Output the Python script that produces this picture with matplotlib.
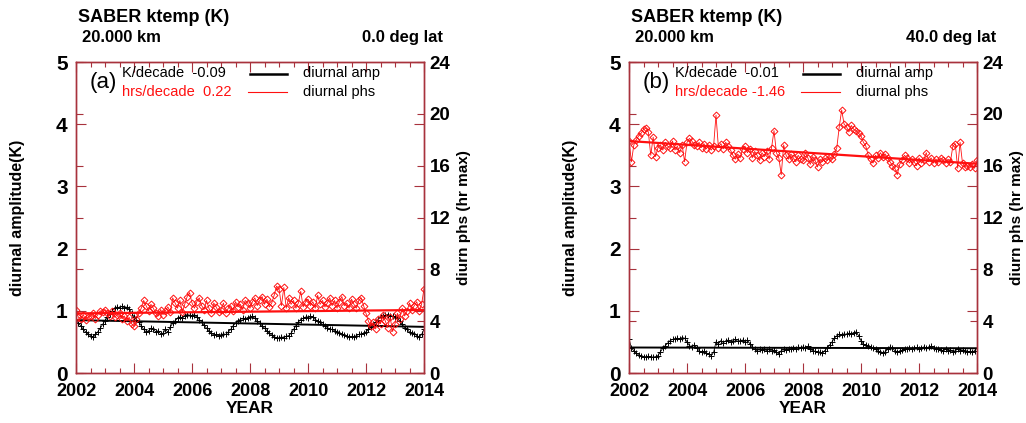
import numpy as np
import matplotlib
matplotlib.use("Agg")
import matplotlib.pyplot as plt
from matplotlib.ticker import MultipleLocator

plt.rcParams['font.family'] = ['Liberation Sans', 'DejaVu Sans']

# monthly values, Jan 2002 .. Jan 2014
AMP_A = [
    0.85, 0.80, 0.76, 0.70, 0.66, 0.63, 0.60, 0.58, 0.62, 0.66, 0.72, 0.78,
    0.84, 0.90, 0.95, 1.00, 1.04, 1.06, 1.05, 1.07, 1.04, 1.06, 1.03, 0.97,
    0.90, 0.86, 0.82, 0.76, 0.70, 0.66, 0.68, 0.72, 0.70, 0.66, 0.68, 0.63,
    0.64, 0.70, 0.66, 0.74, 0.80, 0.84, 0.88, 0.90, 0.89, 0.92, 0.94, 0.93,
    0.92, 0.94, 0.90, 0.86, 0.82, 0.77, 0.72, 0.68, 0.64, 0.61, 0.62, 0.60,
    0.61, 0.63, 0.62, 0.66, 0.70, 0.76, 0.80, 0.84, 0.86, 0.88, 0.87, 0.89,
    0.90, 0.91, 0.88, 0.84, 0.80, 0.76, 0.72, 0.68, 0.64, 0.61, 0.58, 0.57,
    0.56, 0.58, 0.57, 0.59, 0.60, 0.64, 0.70, 0.76, 0.82, 0.86, 0.88, 0.90,
    0.89, 0.91, 0.90, 0.86, 0.84, 0.82, 0.78, 0.76, 0.73, 0.71, 0.70, 0.68,
    0.66, 0.64, 0.63, 0.61, 0.60, 0.58, 0.59, 0.58, 0.60, 0.62, 0.63, 0.64,
    0.66, 0.70, 0.74, 0.78, 0.82, 0.86, 0.90, 0.92, 0.93, 0.94, 0.92, 0.91,
    0.90, 0.88, 0.84, 0.78, 0.72, 0.70, 0.66, 0.64, 0.63, 0.60, 0.58, 0.62,
    0.70,
]

PHS_A = [
    4.9, 4.3, 4.2, 4.5, 4.1, 4.3, 4.4, 4.6, 4.2, 4.5, 4.8, 4.7,
    4.9, 4.6, 4.4, 4.8, 4.3, 4.5, 4.6, 4.2, 4.4, 4.0, 4.3, 3.8,
    3.6, 4.2, 4.6, 5.0, 5.6, 5.2, 4.8, 5.3, 5.0, 4.6, 4.4, 4.9,
    4.5, 4.8, 5.1, 4.7, 5.8, 5.4, 5.0, 5.6, 4.7, 5.3, 5.9, 6.2,
    5.4, 5.0, 5.5, 5.8, 5.2, 4.9, 5.6, 5.0, 4.6, 5.4, 5.1, 4.7,
    4.9, 5.4, 4.6, 5.0, 5.2, 4.8, 5.5, 5.1, 5.3, 4.9, 5.6, 5.4,
    5.0, 5.5, 5.8, 5.2, 5.6, 5.9, 5.3, 5.7, 5.1, 5.4, 6.0, 6.7,
    6.5, 5.2, 6.6, 5.0, 5.8, 5.3, 5.6, 5.0, 5.4, 6.3, 5.1, 5.5,
    5.7, 5.2, 5.5, 5.0, 6.0, 5.3, 5.6, 5.1, 5.4, 5.8, 5.2, 5.6,
    5.0, 5.5, 5.9, 5.2, 5.4, 5.0, 5.7, 5.3, 5.0, 5.6, 5.8, 5.2,
    4.6, 4.0, 3.6, 3.9, 3.4, 4.2, 3.8, 4.5, 4.0, 3.5, 4.3, 3.2,
    3.8, 4.6, 4.2, 5.0, 4.4, 4.8, 5.4, 4.9, 5.2, 5.5, 4.8, 5.3,
    6.5,
]

AMP_B = [
    0.55, 0.40, 0.36, 0.32, 0.29, 0.27, 0.26, 0.26, 0.27, 0.25, 0.26, 0.26,
    0.28, 0.34, 0.40, 0.44, 0.48, 0.52, 0.54, 0.55, 0.56, 0.55, 0.57, 0.56,
    0.50, 0.44, 0.42, 0.45, 0.40, 0.36, 0.33, 0.35, 0.32, 0.31, 0.28, 0.33,
    0.50, 0.47, 0.52, 0.49, 0.51, 0.53, 0.50, 0.52, 0.54, 0.51, 0.52, 0.53,
    0.50, 0.53, 0.47, 0.42, 0.38, 0.36, 0.38, 0.37, 0.39, 0.36, 0.38, 0.35,
    0.37, 0.33, 0.31, 0.36, 0.38, 0.37, 0.39, 0.38, 0.40, 0.39, 0.41, 0.40,
    0.42, 0.40, 0.43, 0.38, 0.36, 0.35, 0.33, 0.34, 0.32, 0.36, 0.40, 0.45,
    0.50, 0.56, 0.60, 0.62, 0.61, 0.63, 0.62, 0.64, 0.63, 0.65, 0.66, 0.60,
    0.52, 0.46, 0.45, 0.44, 0.42, 0.40, 0.38, 0.35, 0.33, 0.32, 0.34, 0.38,
    0.42, 0.40, 0.36, 0.34, 0.35, 0.37, 0.38, 0.39, 0.40, 0.38, 0.40, 0.41,
    0.39, 0.40, 0.42, 0.40, 0.41, 0.43, 0.40, 0.38, 0.39, 0.37, 0.36, 0.38,
    0.35, 0.37, 0.34, 0.36, 0.38, 0.35, 0.37, 0.36, 0.34, 0.35, 0.33, 0.36,
    0.40,
]

PHS_B = [
    17.9, 16.3, 17.6, 18.0, 18.3, 18.5, 18.8, 18.9, 18.6, 16.8, 18.2, 16.7,
    17.4, 17.6, 17.2, 17.8, 17.5, 17.4, 17.9, 17.2, 17.5, 17.0, 17.6, 16.3,
    17.8, 18.1, 17.9, 17.6, 17.5, 17.8, 17.4, 17.7, 17.3, 17.6, 17.2, 17.5,
    19.9, 17.4, 17.7, 17.3, 17.8, 17.5, 17.2, 16.8, 16.5, 16.9, 16.6, 17.3,
    17.5, 17.0, 17.3, 16.6, 17.1, 16.8, 16.4, 17.0, 16.7, 17.1, 16.5, 17.4,
    18.7, 17.0, 16.6, 15.3, 17.6, 16.8, 16.5, 16.9, 16.6, 16.3, 16.8, 16.5,
    16.4, 17.0, 16.6, 16.1, 16.7, 16.4, 15.9, 16.5, 16.3, 16.6, 16.4, 16.7,
    16.5, 16.9, 17.4, 19.0, 20.3, 19.2, 19.0, 18.6, 19.1, 18.8, 18.7, 18.5,
    18.3, 17.8, 17.5, 16.8, 16.5, 16.2, 16.8, 16.6, 17.0, 16.7, 16.9, 16.6,
    16.3, 16.0, 15.8, 15.3, 16.1, 16.4, 16.8, 16.6, 16.2, 16.5, 16.3, 16.0,
    16.6, 16.2, 16.4, 17.0, 16.3, 16.6, 16.2, 16.5, 16.3, 16.6, 16.4, 16.2,
    16.5, 16.3, 17.5, 17.7, 15.8, 17.8, 16.2, 15.9, 16.0, 15.9, 16.1, 15.8,
    16.4,
]

# trend: value at 2002 and slope per decade
AMP_TREND = {'a': (0.85, -0.09), 'b': (0.41, -0.01)}
PHS_TREND = {'a': (4.60, 0.22), 'b': (17.9, -1.46)}

PANELS = [
    ('a', '0.0 deg lat', AMP_A, PHS_A, 'K/decade  -0.09', 'hrs/decade  0.22'),
    ('b', '40.0 deg lat', AMP_B, PHS_B, 'K/decade  -0.01', 'hrs/decade -1.46'),
]

W, H = 1026, 423
SPINE = '#a8323c'
RED = '#ff1010'


def fx(px):
    return px / W


def fy(py):
    return 1 - py / H


def draw_panel(fig, left_px, panel):
    key, lat, amp, phs, amp_txt, phs_txt = panel
    x0, x1, y0, y1 = left_px, left_px + 348, 62, 373
    ax = fig.add_axes([fx(x0), fy(y1), (x1 - x0) / W, (y1 - y0) / H])
    ax2 = ax.twinx()
    years = 2002 + np.arange(len(amp)) / 12.0

    ax.plot(years, amp, color='black', lw=0.6, marker='+', ms=4, mew=0.7)
    a0, aslope = AMP_TREND[key]
    ax.plot([2002, 2014], [a0, a0 + aslope * 1.2], color='black', lw=1.4)

    ax2.plot(years, phs, color=RED, lw=0.6, marker='D', ms=3.5, mfc='none', mew=0.7)
    p0, pslope = PHS_TREND[key]
    ax2.plot([2002, 2014], [p0, p0 + pslope * 1.2], color=RED, lw=1.6)

    ax.set_xlim(2002, 2014)
    ax.set_ylim(0, 5)
    ax2.set_ylim(0, 24)
    ax.xaxis.set_major_locator(MultipleLocator(2))
    ax.xaxis.set_minor_locator(MultipleLocator(0.5))
    ax.yaxis.set_major_locator(MultipleLocator(1))
    ax2.yaxis.set_major_locator(MultipleLocator(4))

    for a in (ax, ax2):
        for s in a.spines.values():
            s.set_color(SPINE)
            s.set_linewidth(1.0)
    ax.tick_params(which='both', direction='in', top=True, right=True, color=SPINE)
    ax.tick_params(which='major', length=7, width=0.8, labelsize=15, pad=6)
    ax.tick_params(which='minor', length=3.5, width=0.8)
    ax.tick_params(axis='x', labelsize=13, pad=7)
    ax2.tick_params(which='both', direction='in', left=True, color=SPINE,
                    length=5, width=0.8, labelsize=13.5, pad=4)
    for lab in ax.get_xticklabels() + ax.get_yticklabels() + ax2.get_yticklabels():
        lab.set_fontweight('bold')

    ax.set_xlabel('YEAR', fontsize=12.5, fontweight='bold', labelpad=1)

    # in-plot legend
    ax.text(0.04, 0.916, '(' + key + ')', transform=ax.transAxes, fontsize=16,
            va='baseline')
    ax.text(0.132, 0.952, amp_txt, transform=ax.transAxes, fontsize=10.5,
            va='baseline')
    ax.text(0.132, 0.891, phs_txt, transform=ax.transAxes, fontsize=10.5,
            va='baseline', color=RED)
    ax.plot([0.5, 0.606], [0.963, 0.963], transform=ax.transAxes, color='black', lw=1.8)
    ax.plot([0.495, 0.606], [0.904, 0.904], transform=ax.transAxes, color=RED, lw=0.8)
    ax.text(0.652, 0.952, 'diurnal amp', transform=ax.transAxes, fontsize=10.5,
            va='baseline')
    ax.text(0.652, 0.891, 'diurnal phs', transform=ax.transAxes, fontsize=10.5,
            va='baseline')

    # header
    fig.text(fx(x0 + 2), fy(22), 'SABER ktemp (K)', fontsize=13, fontweight='bold',
             va='baseline')
    fig.text(fx(x0 + 6), fy(42), '20.000 km', fontsize=12, fontweight='bold',
             va='baseline')
    fig.text(fx(x1 + 19), fy(42), lat, fontsize=12, fontweight='bold',
             va='baseline', ha='right')

    # axis titles
    fig.text(fx(x0 - 58), fy((y0 + y1) / 2), 'diurnal amplitude(K)', fontsize=11.5,
             fontweight='bold', rotation=90, ha='center', va='center')
    fig.text(fx(x1 + 40), fy((y0 + y1) / 2), 'diurn phs (hr max)', fontsize=11,
             fontweight='bold', rotation=90, ha='center', va='center')


def main():
    fig = plt.figure(figsize=(W / 100, H / 100), dpi=100)
    draw_panel(fig, 76, PANELS[0])
    draw_panel(fig, 629, PANELS[1])
    fig.savefig('out.png', dpi=100)


if __name__ == "__main__":
    main()
